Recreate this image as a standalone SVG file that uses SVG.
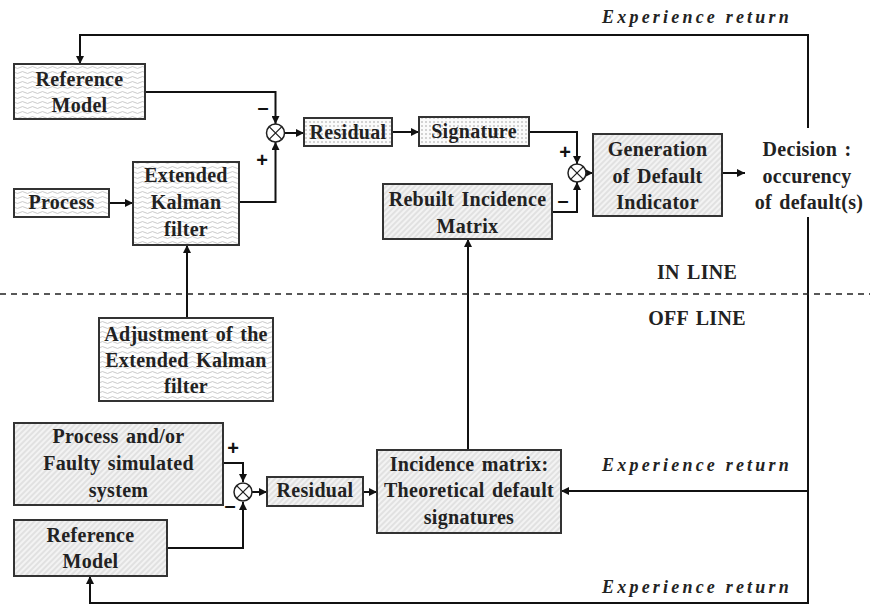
<svg xmlns="http://www.w3.org/2000/svg" width="870" height="605" viewBox="0 0 870 605">
<defs>
<pattern id="wave" width="10" height="5" patternUnits="userSpaceOnUse">
<rect width="10" height="5" fill="#ffffff"/>
<path d="M0,2.5 Q2.5,0.6 5,2.5 T10,2.5" fill="none" stroke="#bdbdbd" stroke-width="0.8"/>
</pattern>
<pattern id="dots" width="4" height="4" patternUnits="userSpaceOnUse">
<rect width="4" height="4" fill="#fbfbfb"/>
<circle cx="2" cy="2" r="0.8" fill="#a0a0a0"/>
</pattern>
<pattern id="hatch" width="4" height="4" patternUnits="userSpaceOnUse" patternTransform="rotate(45)">
<rect width="4" height="4" fill="#f3f3f3"/>
<line x1="1" y1="0" x2="1" y2="4" stroke="#d6d6d6" stroke-width="1.2"/>
</pattern>
<marker id="arr" viewBox="0 0 10 10" refX="10" refY="5" markerWidth="9" markerHeight="8" markerUnits="userSpaceOnUse" orient="auto">
<path d="M0,0 L10,5 L0,10 z" fill="#111"/>
</marker>
</defs>
<style>
.box{stroke:#333;stroke-width:2}
.w{fill:url(#wave)}
.d{fill:url(#dots)}
.h{fill:url(#hatch)}
text{font-weight:bold;font-size:20px;fill:#222;text-anchor:middle;letter-spacing:0.3px;word-spacing:2px}
.er{font-style:italic;font-size:18px;letter-spacing:3.2px;word-spacing:0}
.sg{font-size:20px;fill:#111;letter-spacing:0}
.c{fill:none;stroke:#111;stroke-width:2}
.cj{fill:#fff;stroke:#222;stroke-width:1.5}
</style>

<g id="connectors" class="c">
<path d="M808,128 V35 H80 V64" marker-end="url(#arr)"/>
<path d="M145,92 H275.5 V124" marker-end="url(#arr)"/>
<path d="M109,203 H133" marker-end="url(#arr)"/>
<path d="M239,202 H275.5 V142" marker-end="url(#arr)"/>
<path d="M284.5,133 H304" marker-end="url(#arr)"/>
<path d="M392,132 H419" marker-end="url(#arr)"/>
<path d="M529,132 H577 V164" marker-end="url(#arr)"/>
<path d="M552,212 H577 V182" marker-end="url(#arr)"/>
<path d="M586,173 H593" marker-end="url(#arr)"/>
<path d="M722,173 H745" marker-end="url(#arr)"/>
<path d="M187,318 V245" marker-end="url(#arr)"/>
<path d="M468,450 V239" marker-end="url(#arr)"/>
<path d="M223,463 H243 V482" marker-end="url(#arr)"/>
<path d="M167,548 H243 V502" marker-end="url(#arr)"/>
<path d="M252,492 H267" marker-end="url(#arr)"/>
<path d="M363,492 H377" marker-end="url(#arr)"/>
<path d="M808,491 H561" marker-end="url(#arr)"/>
<path d="M808,217 V603 H90 V576" marker-end="url(#arr)"/>
<line x1="0" y1="294" x2="870" y2="294" stroke-width="1.5" stroke="#222" stroke-dasharray="6,5"/>
</g>

<g id="sum1"><circle class="cj" cx="275.5" cy="133" r="9"/><path d="M269.1,126.6 L281.9,139.4 M281.9,126.6 L269.1,139.4" stroke="#222" stroke-width="1.3"/></g>
<g id="sum2"><circle class="cj" cx="577" cy="173" r="9"/><path d="M570.6,166.6 L583.4,179.4 M583.4,166.6 L570.6,179.4" stroke="#222" stroke-width="1.3"/></g>
<g id="sum3"><circle class="cj" cx="243" cy="492" r="9"/><path d="M236.6,485.6 L249.4,498.4 M249.4,485.6 L236.6,498.4" stroke="#222" stroke-width="1.3"/></g>

<g id="signs">
<text class="sg" font-family="Liberation Sans" x="263" y="114">–</text>
<text class="sg" font-family="Liberation Sans" x="262" y="167">+</text>
<text class="sg" font-family="Liberation Sans" x="565" y="159">+</text>
<text class="sg" font-family="Liberation Sans" x="563" y="207">–</text>
<text class="sg" font-family="Liberation Sans" x="233" y="455">+</text>
<text class="sg" font-family="Liberation Sans" x="230" y="512">–</text>
</g>

<g id="ref-model-top"><rect class="box w" x="14" y="64" width="131" height="55"/><text font-family="Liberation Serif" x="79.5" y="86">Reference</text><text font-family="Liberation Serif" x="79.5" y="112">Model</text></g>
<g id="process"><rect class="box w" x="14" y="189" width="95" height="28"/><text font-family="Liberation Serif" x="61.5" y="209">Process</text></g>
<g id="ekf"><rect class="box w" x="133" y="162" width="106" height="83"/><text font-family="Liberation Serif" x="186" y="182">Extended</text><text font-family="Liberation Serif" x="186" y="209">Kalman</text><text font-family="Liberation Serif" x="186" y="236">filter</text></g>
<g id="residual-top"><rect class="box d" x="304" y="118" width="88" height="28"/><text font-family="Liberation Serif" x="348" y="139">Residual</text></g>
<g id="signature"><rect class="box d" x="419" y="117" width="110" height="29"/><text font-family="Liberation Serif" x="474" y="138">Signature</text></g>
<g id="rebuilt"><rect class="box h" x="383" y="184" width="169" height="55"/><text font-family="Liberation Serif" x="467.5" y="206">Rebuilt Incidence</text><text font-family="Liberation Serif" x="467.5" y="233">Matrix</text></g>
<g id="generation"><rect class="box h" x="593" y="134" width="129" height="82"/><text font-family="Liberation Serif" x="657.5" y="156">Generation</text><text font-family="Liberation Serif" x="657.5" y="183">of Default</text><text font-family="Liberation Serif" x="657.5" y="209">Indicator</text></g>
<g id="decision"><text font-family="Liberation Serif" x="807" y="156">Decision :</text><text font-family="Liberation Serif" x="807" y="183">occurency</text><text font-family="Liberation Serif" x="809" y="209">of default(s)</text></g>
<g id="adjustment"><rect class="box w" x="99" y="318" width="174" height="83"/><text font-family="Liberation Serif" x="186" y="341">Adjustment of the</text><text font-family="Liberation Serif" x="186" y="367">Extended Kalman</text><text font-family="Liberation Serif" x="186" y="393">filter</text></g>
<g id="labels">
<text class="er" font-family="Liberation Serif" x="697" y="23">Experience return</text>
<text font-family="Liberation Serif" x="697" y="279">IN LINE</text>
<text font-family="Liberation Serif" x="697" y="325">OFF LINE</text>
<text class="er" font-family="Liberation Serif" x="697" y="471">Experience return</text>
<text class="er" font-family="Liberation Serif" x="697" y="593">Experience return</text>
</g>
<g id="process-faulty"><rect class="box h" x="14" y="423" width="209" height="82"/><text font-family="Liberation Serif" x="118.5" y="443">Process and/or</text><text font-family="Liberation Serif" x="118.5" y="470">Faulty simulated</text><text font-family="Liberation Serif" x="118.5" y="497">system</text></g>
<g id="residual-bottom"><rect class="box h" x="267" y="477" width="96" height="29"/><text font-family="Liberation Serif" x="315" y="497">Residual</text></g>
<g id="ref-model-bottom"><rect class="box h" x="14" y="520" width="153" height="56"/><text font-family="Liberation Serif" x="90.5" y="542">Reference</text><text font-family="Liberation Serif" x="90.5" y="568">Model</text></g>
<g id="incidence"><rect class="box h" x="377" y="450" width="184" height="83"/><text font-family="Liberation Serif" x="469" y="471">Incidence matrix:</text><text font-family="Liberation Serif" x="469" y="497">Theoretical default</text><text font-family="Liberation Serif" x="469" y="524">signatures</text></g>
</svg>
